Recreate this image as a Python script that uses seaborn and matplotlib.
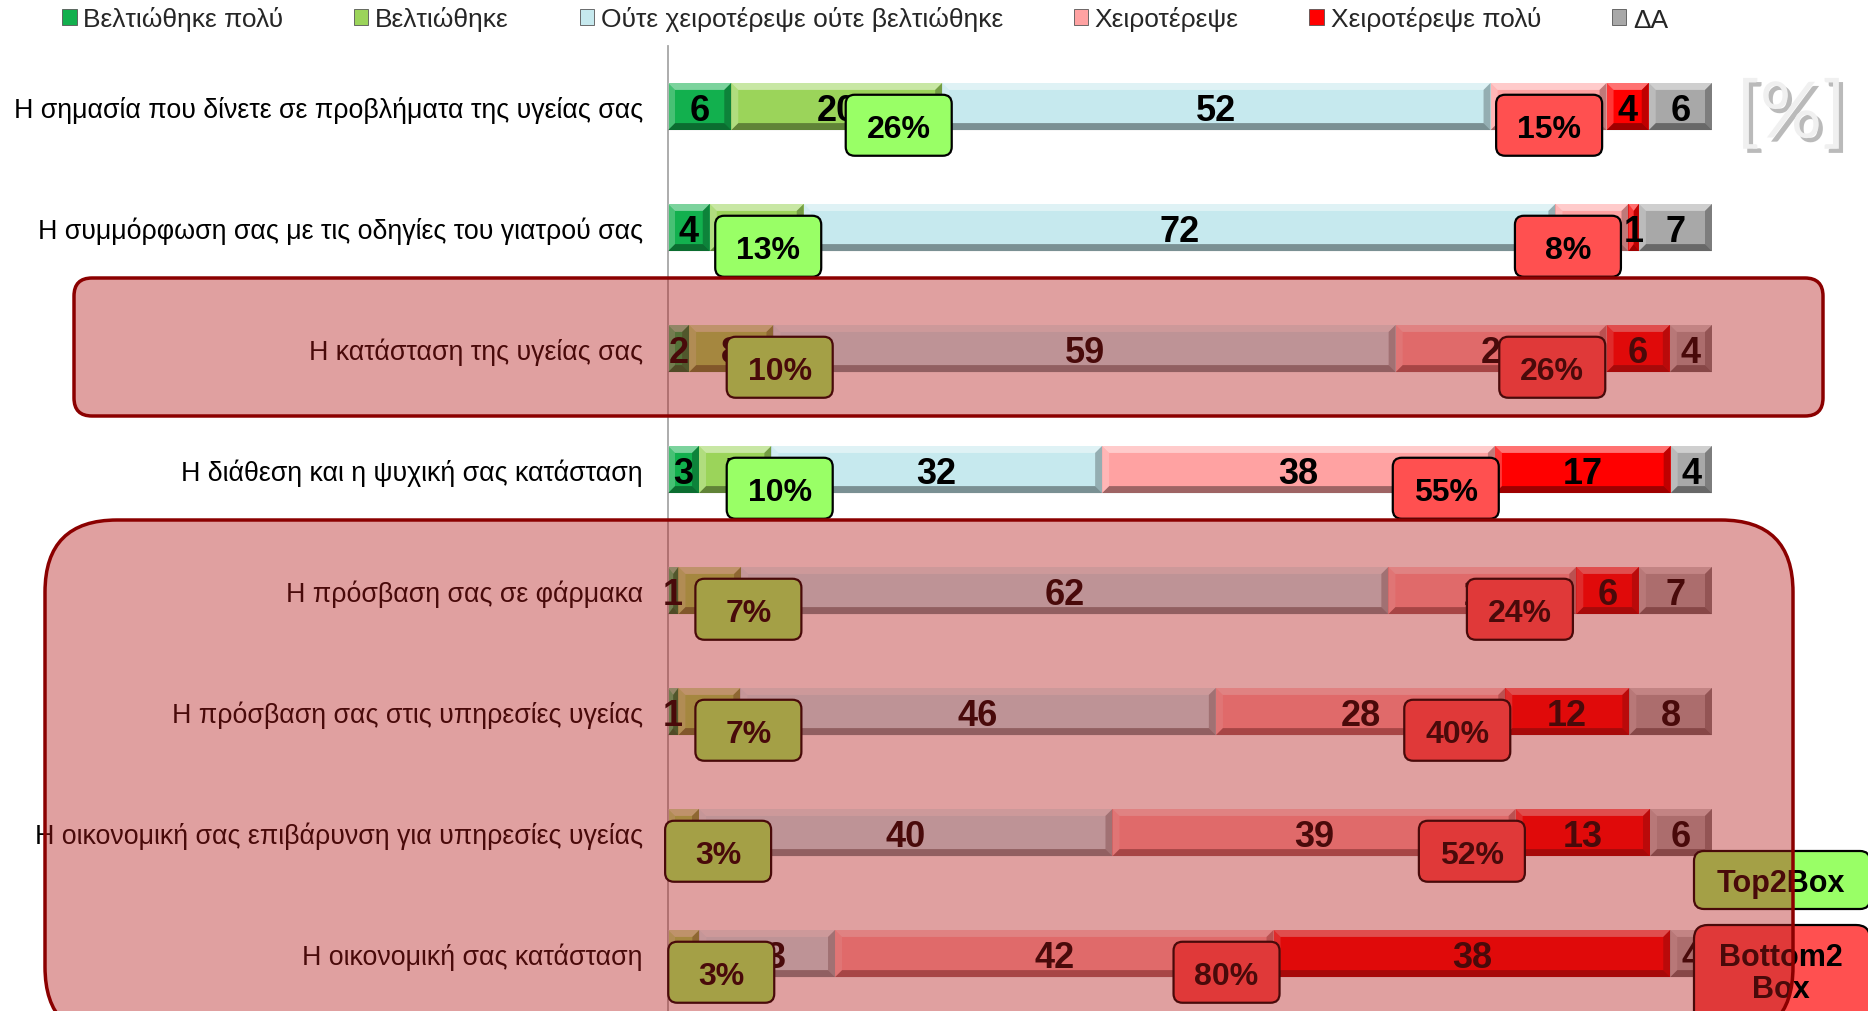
import numpy as np
import pandas as pd
import matplotlib
matplotlib.use("Agg")
import matplotlib.pyplot as plt
import seaborn as sns
from matplotlib.patches import Polygon, FancyBboxPatch, Rectangle
from matplotlib.transforms import IdentityTransform
from matplotlib import patheffects as pe

# ---------------- data ----------------
categories = [
    "Η σημασία που δίνετε σε προβλήματα της υγείας σας",
    "Η συμμόρφωση σας με τις οδηγίες του γιατρού σας",
    "Η κατάσταση της υγείας σας",
    "Η διάθεση και η ψυχική σας κατάσταση",
    "Η πρόσβαση σας σε φάρμακα",
    "Η πρόσβαση σας στις υπηρεσίες υγείας",
    "Η οικονομική σας επιβάρυνση για υπηρεσίες υγείας",
    "Η οικονομική σας κατάσταση",
]
series_names = ["Βελτιώθηκε πολύ", "Βελτιώθηκε", "Ούτε χειροτέρεψε ούτε βελτιώθηκε",
                "Χειροτέρεψε", "Χειροτέρεψε πολύ", "ΔΑ"]
much_better = [6, 4, 2, 3, 1, 1, 0, 0]
better = [20, 9, 8, 7, 6, 6, 3, 3]
no_change = [52, 72, 59, 32, 62, 46, 40, 13]
worse = [11, 7, 20, 38, 18, 28, 39, 42]
much_worse = [4, 1, 6, 17, 6, 12, 13, 38]
no_answer = [6, 7, 4, 4, 7, 8, 6, 4]
top2_box = [26, 13, 10, 10, 7, 7, 3, 3]
bottom2_box = [15, 8, 26, 55, 24, 40, 52, 80]

# ---------------- styling / layout ----------------
series_colors = ["#12B04E", "#9BD45A", "#C6E9EE", "#FFA2A2", "#FF0000", "#A8A8A8"]
top2_color = "#99FF66"
bottom2_color = "#FF5050"
highlight_face = (180 / 255, 26 / 255, 26 / 255, 0.41)
highlight_edge = "#8B0000"
top2_label_x = [22.1, 9.6, 10.7, 10.7, 7.7, 7.7, 4.8, 5.1]
bottom2_label_x = [84.4, 86.2, 84.7, 74.5, 81.6, 75.6, 77.0, 53.5]
callout_dy = 0.155
W, H = 1868, 1012

sns.set_theme(style="white")
plt.rcParams["font.family"] = ["Liberation Sans", "DejaVu Sans"]

fig = plt.figure(figsize=(W / 100, H / 100), dpi=100)
fig.patch.set_facecolor("white")
ax = fig.add_axes([668 / W, -3 / H, 1044 / W, 968 / H])
ax.set_facecolor("none")

values = np.array([much_better, better, no_change, worse, much_worse, no_answer], dtype=float)
pct = values / values.sum(axis=0) * 100
cum = np.cumsum(pct, axis=0)
left = cum - pct

bar_w = 0.39
# stacked bars: longest cumulative drawn first, shorter ones on top
for k in range(len(series_names) - 1, -1, -1):
    df = pd.DataFrame({"category": categories, "cum": cum[k]})
    sns.barplot(data=df, x="cum", y="category", orient="h", color=series_colors[k],
                saturation=1, width=bar_w, linewidth=0, edgecolor="none", ax=ax)

ax.set_xlim(0, 100)
ax.set_ylim(7.5, -0.5)
ax.set_autoscale_on(False)

# bevel shading on each segment
bx = 7 / 10.44
by = 7 / 121
for k in range(len(series_names)):
    for i in range(len(categories)):
        x0, x1 = left[k, i], cum[k, i]
        if x1 - x0 <= 0:
            continue
        b = min(bx, (x1 - x0) / 2)
        top, bot = i - bar_w / 2, i + bar_w / 2
        shapes = [
            ([(x0, top), (x1, top), (x1 - b, top + by), (x0 + b, top + by)], "white", 0.45),
            ([(x0, bot), (x1, bot), (x1 - b, bot - by), (x0 + b, bot - by)], "black", 0.38),
            ([(x0, top), (x0 + b, top + by), (x0 + b, bot - by), (x0, bot)], "white", 0.22),
            ([(x1, top), (x1 - b, top + by), (x1 - b, bot - by), (x1, bot)], "black", 0.25),
        ]
        for pts, c, a in shapes:
            ax.add_patch(Polygon(pts, closed=True, facecolor=c, alpha=a, edgecolor="none", zorder=3))
        if values[k, i] > 0:
            ax.text((x0 + x1) / 2, i + 0.035, f"{int(values[k, i])}", ha="center", va="center",
                    fontsize=26, fontweight="bold", color="black", zorder=4, clip_on=False)

# axis styling
ax.set_xlabel("")
ax.set_ylabel("")
ax.xaxis.set_visible(False)
for s in ["top", "right", "bottom"]:
    ax.spines[s].set_visible(False)
ax.spines["left"].set_color("#A6A6A6")
ax.spines["left"].set_linewidth(1.3)
ax.set_yticks(range(len(categories)))
ax.set_yticklabels(categories, fontsize=19.3, color="black")
ax.tick_params(axis="y", which="major", length=0, pad=18)
ax.set_yticks(np.arange(-0.5, len(categories), 1), minor=True)
ax.tick_params(axis="y", which="minor", length=6, width=1.2, color="#A6A6A6", direction="out")

fig.canvas.draw()
to_px = ax.transData.transform


def px_box(cx, cy, w, h, face, r=9, z=2, lw=1.6):
    p = FancyBboxPatch((cx - w / 2, cy - h / 2), w, h,
                       boxstyle=f"round,pad=0,rounding_size={r}",
                       facecolor=face, edgecolor="black", linewidth=lw,
                       transform=IdentityTransform(), zorder=z)
    fig.add_artist(p)


# Top2 / Bottom2 callouts
for i in range(len(categories)):
    for xs, vals, face in [(top2_label_x, top2_box, top2_color),
                           (bottom2_label_x, bottom2_box, bottom2_color)]:
        cx, cy = to_px((xs[i], i + callout_dy))
        px_box(cx, cy, 106, 61, face)
        fig.text(cx, cy - 4, f"{vals[i]}%", transform=IdentityTransform(), ha="center",
                 va="center", fontsize=23, fontweight="bold", color="black", zorder=2.5)

# Top2Box / Bottom2Box key
px_box(1782, H - 881, 176, 58, top2_color, r=10)
fig.text(1781, H - 884, "Top2Box", transform=IdentityTransform(), ha="center", va="center",
         fontsize=22, fontweight="bold", color="black", zorder=2.5)
px_box(1782, H - 980, 176, 108, bottom2_color, r=14)
fig.text(1781, H - 974, "Bottom2\nBox", transform=IdentityTransform(), ha="center", va="center",
         fontsize=22, fontweight="bold", color="black", linespacing=1.05, zorder=2.5)

# highlighted groups
for (x0, y0, x1, y1, r) in [(74, 279, 1823, 417, 18), (45, 521, 1793, 1040, 72)]:
    hp = FancyBboxPatch((x0, H - y1), x1 - x0, y1 - y0,
                        boxstyle=f"round,pad=0,rounding_size={r}",
                        facecolor=highlight_face, edgecolor=highlight_edge, linewidth=2.5,
                        transform=IdentityTransform(), zorder=5)
    fig.add_artist(hp)

# legend
handles = [Rectangle((0, 0), 1, 1, facecolor=c, edgecolor="#555555", linewidth=0.6)
           for c in series_colors]
fig.legend(handles, series_names, loc="center left", bbox_to_anchor=(62 / W, 1 - 20 / H),
           ncol=6, frameon=False, fontsize=19, handlelength=0.55, handleheight=0.55,
           handletextpad=0.25, columnspacing=2.68, borderpad=0, borderaxespad=0)

# unit mark
fig.text(1791 / W, 1 - 117 / H, "[%]", ha="center", va="center", fontsize=56,
         family=["Lato", "DejaVu Sans"], color="#F0F0F0", zorder=6,
         path_effects=[pe.withSimplePatchShadow(offset=(3, -3), shadow_rgbFace="#777777", alpha=0.5)])

fig.savefig("out.png", dpi=100, facecolor="white")
